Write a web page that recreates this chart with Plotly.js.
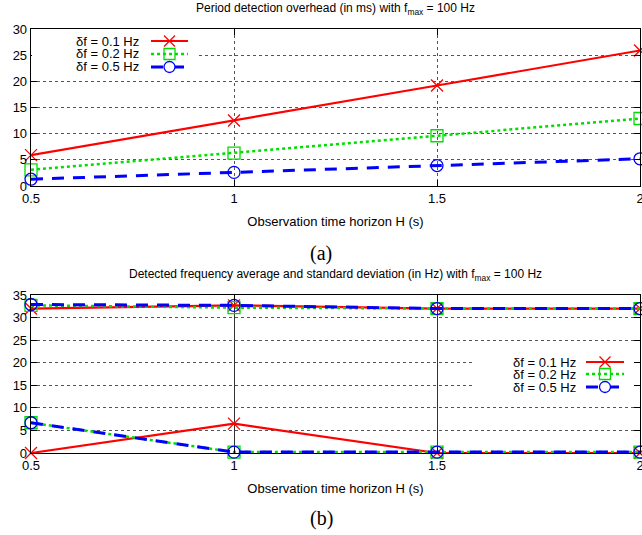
<!DOCTYPE html>
<html>
<head>
<meta charset="utf-8">
<script src="https://cdn.plot.ly/plotly-3.0.1.min.js"></script>
<style>html,body{margin:0;padding:0;background:#fff;}#chart{width:642px;height:535px;}</style>
</head>
<body>
<div id="chart"></div>
<script>
// ---- data ----
const H = [0.5, 1, 1.5, 2];
const xTickLabels = ['0.5', '1', '1.5', '2'];
const seriesNames = ['\u03b4f = 0.1 Hz', '\u03b4f = 0.2 Hz', '\u03b4f = 0.5 Hz'];
// (a) period detection overhead (ms)
const overhead_df01 = [5.9, 12.5, 19.2, 25.9];
const overhead_df02 = [3.1, 6.3, 9.6, 12.9];
const overhead_df05 = [1.3, 2.6, 3.9, 5.2];
// (b) detected frequency average and standard deviation (Hz)
const freqAvg_df01 = [32.0, 32.7, 32.0, 32.0];
const freqStd_df01 = [0.0, 6.5, 0.0, 0.0];
const freqAvg_df02 = [32.7, 32.2, 32.0, 32.0];
const freqStd_df02 = [6.7, 0.2, 0.2, 0.2];
const freqAvg_df05 = [32.9, 32.7, 32.0, 32.0];
const freqStd_df05 = [6.7, 0.2, 0.2, 0.2];

// ---- styles ----
const styles = [
  {color: '#ff0000', dash: 'solid', width: 2.2, symbol: 'x-thin-open', msize: 12},
  {color: '#00dd00', dash: '3px,3px', width: 2.5, symbol: 'square-open', msize: 12},
  {color: '#0000ff', dash: '12px,9px', width: 3, symbol: 'circle-open', msize: 12}
];

const FONT = 'Liberation Sans, Arial, sans-serif';
const W = 642, HT = 535, ML = 31, MR = 2;
const px2x = p => (p - ML) / (W - ML - MR);
const py2y = p => 1 - p / HT;

function mk(x, y, i, xa, ya) {
  const s = styles[i];
  return {
    x: x, y: y, xaxis: xa, yaxis: ya, type: 'scatter', mode: 'lines+markers',
    name: seriesNames[i], showlegend: false, cliponaxis: false,
    line: {color: s.color, dash: s.dash, width: s.width},
    marker: {symbol: s.symbol, size: s.msize, color: s.color, line: {color: s.color, width: 1.3}}
  };
}

const traces = [
  mk(H, overhead_df01, 0, 'x', 'y'),
  mk(H, overhead_df02, 1, 'x', 'y'),
  mk(H, overhead_df05, 2, 'x', 'y'),
  mk(H, freqStd_df01, 0, 'x2', 'y2'),
  mk(H, freqStd_df02, 1, 'x2', 'y2'),
  mk(H, freqStd_df05, 2, 'x2', 'y2'),
  mk(H, freqAvg_df01, 0, 'x2', 'y2'),
  mk(H, freqAvg_df02, 1, 'x2', 'y2'),
  mk(H, freqAvg_df05, 2, 'x2', 'y2')
];

const shapes = [];
const annotations = [];

// white masks that interrupt grid lines behind the keys (no data crosses these areas)
shapes.push({type: 'rect', xref: 'paper', yref: 'paper', layer: 'above',
  x0: px2x(32), x1: px2x(197), y0: py2y(76), y1: py2y(30),
  fillcolor: '#ffffff', line: {width: 0}});
shapes.push({type: 'rect', xref: 'paper', yref: 'paper', layer: 'above',
  x0: px2x(473), x1: px2x(634), y0: py2y(397), y1: py2y(352),
  fillcolor: '#ffffff', line: {width: 0}});

function legend(textRight, l0, l1, rows) {
  rows.forEach((py, i) => {
    const s = styles[i];
    const yy = py2y(py);
    annotations.push({xref: 'paper', yref: 'paper', x: px2x(textRight), y: yy,
      xanchor: 'right', yanchor: 'middle', text: seriesNames[i], showarrow: false,
      font: {family: FONT, size: 13, color: '#000'}});
    shapes.push({type: 'line', xref: 'paper', yref: 'paper', layer: 'above', x0: px2x(l0), x1: px2x(l1), y0: yy, y1: yy,
      line: {color: s.color, width: s.width, dash: s.dash}});
    const cx = (l0 + l1) / 2, r = 5.5;
    if (i === 0) {
      shapes.push({type: 'line', xref: 'paper', yref: 'paper', layer: 'above', x0: px2x(cx - r), x1: px2x(cx + r), y0: py2y(py - r), y1: py2y(py + r), line: {color: s.color, width: 1.3}});
      shapes.push({type: 'line', xref: 'paper', yref: 'paper', layer: 'above', x0: px2x(cx - r), x1: px2x(cx + r), y0: py2y(py + r), y1: py2y(py - r), line: {color: s.color, width: 1.3}});
    } else if (i === 1) {
      shapes.push({type: 'rect', xref: 'paper', yref: 'paper', layer: 'above', x0: px2x(cx - r), x1: px2x(cx + r), y0: py2y(py + r), y1: py2y(py - r), line: {color: s.color, width: 1.3}, fillcolor: 'rgba(0,0,0,0)'});
    } else {
      shapes.push({type: 'circle', xref: 'paper', yref: 'paper', layer: 'above', x0: px2x(cx - r), x1: px2x(cx + r), y0: py2y(py + r), y1: py2y(py - r), line: {color: s.color, width: 1.3}, fillcolor: '#ffffff'});
    }
  });
}
legend(141, 151, 188, [41, 54, 67]);
legend(578, 586, 624, [362, 374, 387]);

// titles and captions
const titleFont = {family: FONT, size: 12, color: '#000'};
annotations.push({xref: 'paper', yref: 'paper', x: 0.5, y: py2y(9), xanchor: 'center', yanchor: 'middle', showarrow: false,
  text: 'Period detection overhead (in ms) with f<sub>max</sub> = 100 Hz', font: titleFont});
annotations.push({xref: 'paper', yref: 'paper', x: 0.5, y: py2y(275), xanchor: 'center', yanchor: 'middle', showarrow: false,
  text: 'Detected frequency average and standard deviation (in Hz) with f<sub>max</sub> = 100 Hz', font: titleFont});
annotations.push({xref: 'paper', yref: 'paper', x: px2x(321), y: py2y(253), xanchor: 'center', yanchor: 'middle', showarrow: false,
  text: '(a)', font: {family: 'Liberation Serif, Times New Roman, serif', size: 20, color: '#000'}});
annotations.push({xref: 'paper', yref: 'paper', x: px2x(321), y: py2y(518), xanchor: 'center', yanchor: 'middle', showarrow: false,
  text: '(b)', font: {family: 'Liberation Serif, Times New Roman, serif', size: 20, color: '#000'}});

const tickFont = {family: FONT, size: 13, color: '#000'};
const xCommon = {
  range: [0.5, 2], tickvals: H, ticktext: xTickLabels, tickfont: tickFont, ticklabeloverflow: 'allow',
  showline: true, linecolor: '#000', linewidth: 1.3, mirror: 'allticks',
  ticks: 'inside', ticklen: 6, tickcolor: '#000', zeroline: false,
  title: {text: 'Observation time horizon H (s)', font: {family: FONT, size: 13, color: '#000'}, standoff: 12}
};
const yCommon = {
  dtick: 5, tickfont: tickFont, showline: true, linecolor: '#000', linewidth: 1.3, mirror: 'allticks',
  ticks: 'inside', ticklen: 6, tickcolor: '#000', zeroline: false,
  showgrid: true, gridcolor: '#555', griddash: 'dot', gridwidth: 1
};

const layout = {
  width: W, height: HT,
  margin: {l: ML, r: MR, t: 0, b: 0},
  paper_bgcolor: '#fff', plot_bgcolor: '#fff',
  showlegend: false,
  xaxis: Object.assign({}, xCommon, {anchor: 'y', showgrid: true, gridcolor: '#555', griddash: 'dot', gridwidth: 1}),
  yaxis: Object.assign({}, yCommon, {range: [0, 30], domain: [py2y(186), py2y(29)], anchor: 'x'}),
  xaxis2: Object.assign({}, xCommon, {anchor: 'y2', showgrid: true, gridcolor: '#333', griddash: 'solid', gridwidth: 1}),
  yaxis2: Object.assign({}, yCommon, {range: [0, 35], domain: [py2y(453), py2y(295)], anchor: 'x2'}),
  shapes: shapes,
  annotations: annotations
};

Plotly.newPlot('chart', traces, layout, {displayModeBar: false, staticPlot: true});
</script>
</body>
</html>
